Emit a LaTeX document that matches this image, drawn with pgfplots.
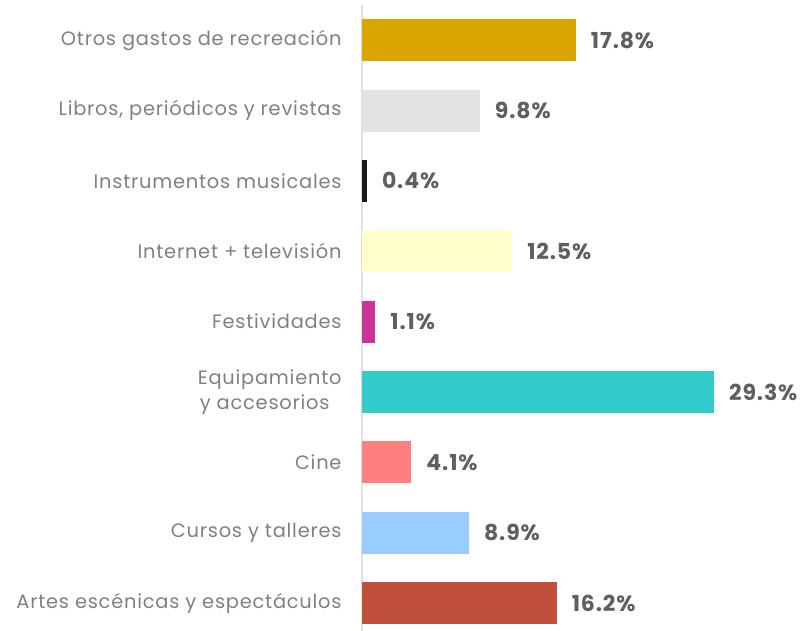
\documentclass[border=0pt]{standalone}
\usepackage{pgfplots}
\pgfplotsset{compat=1.18}
\usepackage{fontspec}
\setmainfont{Poppins}[LetterSpace=4]
\definecolor{cOtros}{HTML}{D9A600}
\definecolor{cLibros}{HTML}{E3E3E3}
\definecolor{cInstr}{HTML}{1A1A1A}
\definecolor{cInternet}{HTML}{FFFFCC}
\definecolor{cFest}{HTML}{CC3399}
\definecolor{cEquip}{HTML}{33CCCC}
\definecolor{cCine}{HTML}{FF7F7F}
\definecolor{cCursos}{HTML}{99CCFF}
\definecolor{cArtes}{HTML}{C0503C}
\definecolor{labelgray}{HTML}{808080}
\definecolor{valgray}{HTML}{5F5F5F}
\begin{document}
\begin{tikzpicture}[x=1pt,y=1pt]
\begin{axis}[
  at={(362pt,0pt)}, anchor=south west,
  scale only axis, width=441pt, height=626pt,
  xmin=0, xmax=36.72, ymin=-0.398, ymax=8.5,
  xbar, bar width=42pt, bar shift=0pt,
  axis y line*=left, hide x axis,
  y axis line style={draw=black!12, line width=2pt},
  ytick={0,1,2,3,4,5,6,7,8},
  yticklabels={{Artes escénicas y espectáculos},{Cursos y talleres},{Cine},{Equipamiento\\y accesorios\hspace*{12pt}},{Festividades},{Internet + televisión},{Instrumentos musicales},{Libros, periódicos y revistas},{Otros gastos de recreación}},
  ytick style={draw=none},
  yticklabel style={font=\fontsize{19.4}{25}\selectfont, text=labelgray, align=right, inner sep=0pt, xshift=-16pt},
  /pgf/number format/assume math mode=true,
  nodes near coords={\pgfmathprintnumber[fixed,fixed zerofill,precision=1,assume math mode=true]{\pgfplotspointmeta}\%},
  point meta=x,
  nodes near coords style={font=\fontsize{22}{24}\selectfont\bfseries, text=valgray, anchor=west, inner sep=0pt, xshift=15pt},
  clip=false,
]
\addplot[fill=cArtes, draw=none] coordinates {(16.2,0)};
\addplot[fill=cCursos, draw=none] coordinates {(8.9,1)};
\addplot[fill=cCine, draw=none] coordinates {(4.1,2)};
\addplot[fill=cEquip, draw=none] coordinates {(29.3,3)};
\addplot[fill=cFest, draw=none] coordinates {(1.1,4)};
\addplot[fill=cInternet, draw=none] coordinates {(12.5,5)};
\addplot[fill=cInstr, draw=none] coordinates {(0.4,6)};
\addplot[fill=cLibros, draw=none] coordinates {(9.8,7)};
\addplot[fill=cOtros, draw=none] coordinates {(17.8,8)};
\end{axis}
\pgfresetboundingbox
\useasboundingbox (0,0) rectangle (803pt,631pt);
\end{tikzpicture}
\end{document}
